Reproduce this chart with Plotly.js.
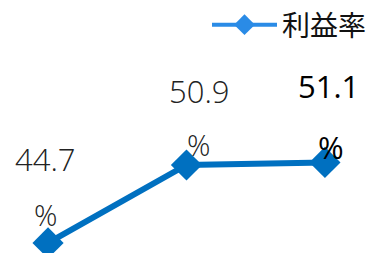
<!DOCTYPE html>
<html><head><meta charset="utf-8">
<script src="https://cdn.plot.ly/plotly-3.0.1.min.js"></script>
<style>html,body{margin:0;padding:0;background:#fff}#c{width:372px;height:253px}</style>
</head><body><div id="c"></div>
<script>
const categories = ['A', 'B', 'C'];
const rates = [44.7, 50.9, 51.1];
const valueLabels = ['44.7', '50.9', '51.1'];
const unitLabels = ['%', '%', '%'];
const seriesName = '利益率';

const xs = [0, 1, 2];
const valShift = [[-3, 84], [13, 74], [4, 76]];
const unitShift = [[-3, 28], [12, 20], [6, 15]];
const strong = [false, false, true];

const annotations = [];
xs.forEach((x, i) => {
  const f = {family: 'Open Sans, Noto Sans, sans-serif', color: strong[i] ? '#000' : '#222', weight: strong[i] ? 500 : 300};
  annotations.push({x: x, y: rates[i], xref: 'x', yref: 'y', text: valueLabels[i],
    showarrow: false, xshift: valShift[i][0], yshift: valShift[i][1],
    font: Object.assign({size: 31}, f)});
  annotations.push({x: x, y: rates[i], xref: 'x', yref: 'y', text: unitLabels[i],
    showarrow: false, xshift: unitShift[i][0], yshift: unitShift[i][1],
    font: Object.assign({size: strong[i] ? 31 : 29}, f)});
});

const data = [
  {x: xs, y: rates, type: 'scatter', mode: 'lines+markers', showlegend: false,
   line: {color: '#0070C0', width: 6}, marker: {symbol: 'diamond', size: 24, color: '#0070C0'}},
  {x: [10, 11], y: [0, 0], type: 'scatter', mode: 'lines+markers', name: seriesName,
   line: {color: '#2A8BE6', width: 4}, marker: {symbol: 'diamond', size: 16, color: '#2A8BE6'}}
];

const layout = {
  width: 372, height: 253,
  margin: {l: 0, r: 0, t: 0, b: 0},
  paper_bgcolor: '#fff', plot_bgcolor: '#fff',
  xaxis: {range: [-0.347, 2.34], visible: false, fixedrange: true},
  yaxis: {range: [43.9, 64.02], visible: false, fixedrange: true},
  showlegend: true,
  legend: {x: 1, xanchor: 'right', y: 1, yanchor: 'top', orientation: 'h', itemwidth: 65,
    font: {family: 'Noto Sans CJK JP, sans-serif', size: 28, color: '#111'}, bgcolor: 'rgba(0,0,0,0)'},
  annotations: annotations
};
Plotly.newPlot('c', data, layout, {displayModeBar: false, staticPlot: true});
</script></body></html>
